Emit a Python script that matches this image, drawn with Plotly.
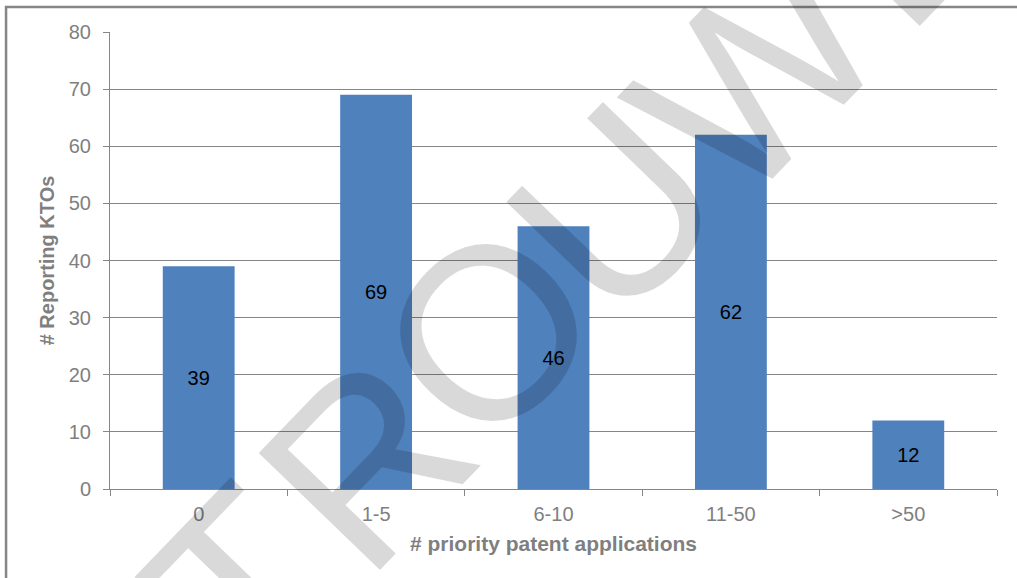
import plotly.graph_objects as go

# Number of reporting KTOs by count of priority patent applications
categories = ["0", "1-5", "6-10", "11-50", ">50"]
ktos = [39, 69, 46, 62, 12]
y_ticks = [0, 10, 20, 30, 40, 50, 60, 70, 80]

# Diagonal watermark, one letter at a time (paper coordinates of each glyph centre)
wm_letters = ["T", "R", "O", "U", "W", "E"]
wm_x = [0.150, 0.289, 0.427, 0.569, 0.729, 0.892]
wm_y = [-0.210, 0.059, 0.344, 0.611, 0.910, 1.238]

GRAY = "#7f7f7f"
LINE = "#868686"
FONT = "Liberation Sans, Arial, sans-serif"

fig = go.Figure(
    go.Bar(
        x=categories,
        y=ktos,
        text=[str(v) for v in ktos],
        textposition="inside",
        insidetextanchor="middle",
        textfont=dict(family=FONT, size=20, color="black"),
        marker=dict(color="#4f81bd", line=dict(width=0)),
        showlegend=False,
    )
)

watermark = [
    dict(
        text=ch,
        xref="paper",
        yref="paper",
        x=x,
        y=y,
        xanchor="center",
        yanchor="middle",
        showarrow=False,
        textangle=-46,
        font=dict(family=FONT, size=245, color="rgba(0,0,0,0.15)"),
    )
    for ch, x, y in zip(wm_letters, wm_x, wm_y)
]

fig.update_layout(
    width=1017,
    height=578,
    margin=dict(l=110, r=20, t=32, b=89),
    paper_bgcolor="white",
    plot_bgcolor="white",
    bargap=0.595,
    font=dict(family=FONT, color=GRAY),
    xaxis=dict(
        type="category",
        showline=True,
        linecolor=LINE,
        linewidth=1,
        ticks="outside",
        tickson="boundaries",
        ticklen=6,
        tickcolor=LINE,
        showgrid=False,
        tickfont=dict(size=20, color=GRAY),
        ticklabelstandoff=7,
        title=dict(
            text="<b># priority patent applications</b>",
            font=dict(size=21, color=GRAY),
            standoff=12,
        ),
    ),
    yaxis=dict(
        range=[0, 80],
        tickvals=y_ticks,
        showline=True,
        linecolor=LINE,
        linewidth=1,
        ticks="outside",
        ticklen=6,
        tickcolor=LINE,
        showgrid=True,
        gridcolor=LINE,
        gridwidth=1,
        zeroline=False,
        tickfont=dict(size=20, color=GRAY),
        ticklabelstandoff=8,
        title=dict(
            text="<b># Reporting KTOs</b>",
            font=dict(size=20, color=GRAY),
            standoff=8,
        ),
    ),
    shapes=[
        # outer frame around the chart
        dict(
            type="rect",
            xref="paper",
            yref="paper",
            x0=-0.1172,
            x1=1.2,
            y0=-0.5,
            y1=1.0547,
            line=dict(color=LINE, width=2.5),
            fillcolor="rgba(0,0,0,0)",
            layer="below",
        )
    ],
    annotations=watermark,
)

fig.write_html("out.html")
